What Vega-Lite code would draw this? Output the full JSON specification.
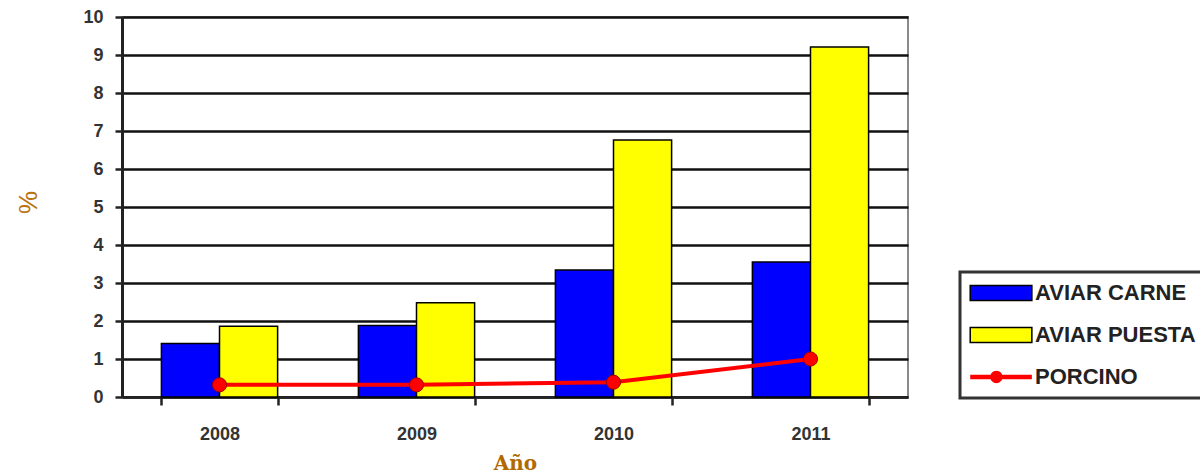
{
  "$schema": "https://vega.github.io/schema/vega-lite/v6.json",
  "autosize": {"type": "none"},
  "width": 786,
  "height": 380,
  "padding": {"left": 122, "top": 17, "right": 292, "bottom": 78},
  "background": "white",
  "config": {"view": {"stroke": "#8a8a8a", "strokeWidth": 2}, "font": "Liberation Sans"},
  "data": {
    "values": [
      {"year": "2008", "serie": "AVIAR CARNE", "value": 1.41},
      {"year": "2008", "serie": "AVIAR PUESTA", "value": 1.86},
      {"year": "2008", "serie": "PORCINO", "value": 0.32},
      {"year": "2009", "serie": "AVIAR CARNE", "value": 1.88},
      {"year": "2009", "serie": "AVIAR PUESTA", "value": 2.48},
      {"year": "2009", "serie": "PORCINO", "value": 0.32},
      {"year": "2010", "serie": "AVIAR CARNE", "value": 3.34},
      {"year": "2010", "serie": "AVIAR PUESTA", "value": 6.76},
      {"year": "2010", "serie": "PORCINO", "value": 0.39},
      {"year": "2011", "serie": "AVIAR CARNE", "value": 3.55},
      {"year": "2011", "serie": "AVIAR PUESTA", "value": 9.21},
      {"year": "2011", "serie": "PORCINO", "value": 1.0}
    ]
  },
  "encoding": {
    "x": {
      "field": "year",
      "type": "nominal",
      "scale": {"paddingInner": 0.41, "paddingOuter": 0.2},
      "axis": {
        "title": "Año",
        "titleFont": "DejaVu Serif",
        "titleFontWeight": "bold",
        "titleFontSize": 20,
        "titleColor": "#B06A00",
        "titleY": 66,
        "titleBaseline": "middle",
        "labelAngle": 0,
        "labelFontWeight": "bold",
        "labelFontSize": 18,
        "labelColor": "#333",
        "labelPadding": 20,
        "tickBand": "extent",
        "tickSize": 8,
        "tickWidth": 2.5,
        "tickColor": "#222",
        "domainColor": "#222",
        "domainWidth": 2.5
      }
    },
    "y": {
      "field": "value",
      "type": "quantitative",
      "scale": {"domain": [0, 10]},
      "axis": {
        "values": [0, 1, 2, 3, 4, 5, 6, 7, 8, 9, 10],
        "labelOverlap": false,
        "grid": true,
        "gridColor": "#111",
        "gridWidth": 2.5,
        "domainColor": "#222",
        "domainWidth": 3,
        "tickColor": "#222",
        "tickWidth": 2.5,
        "tickSize": 7,
        "labelFontWeight": "bold",
        "labelFontSize": 18,
        "labelColor": "#333",
        "labelPadding": 12,
        "title": "%",
        "titleColor": "#B8730F",
        "titleFontSize": 26,
        "titleFontWeight": "normal",
        "titleX": -94,
        "titleY": 185,
        "titleAngle": 270,
        "titleAlign": "center",
        "titleBaseline": "middle"
      }
    }
  },
  "layer": [
    {
      "transform": [{"filter": "datum.serie !== 'PORCINO'"}],
      "mark": {"type": "bar", "stroke": "black", "strokeWidth": 1.5},
      "encoding": {
        "xOffset": {"field": "serie", "type": "nominal", "sort": ["AVIAR CARNE", "AVIAR PUESTA"], "scale": {"paddingInner": 0, "paddingOuter": 0}},
        "color": {
          "field": "serie",
          "type": "nominal",
          "scale": {"domain": ["AVIAR CARNE", "AVIAR PUESTA", "PORCINO"], "range": ["#0000FF", "#FFFF00", "#FF0000"]},
          "legend": {
            "orient": "none",
            "legendX": 838,
            "legendY": 255,
            "title": null,
            "strokeColor": "#333",
            "fillColor": "white",
            "padding": 10,
            "labelFont": "Liberation Sans",
            "labelFontWeight": "bold",
            "labelFontSize": 22,
            "labelColor": "#222",
            "labelOffset": 43,
            "labelLimit": 400,
            "symbolSize": 3800,
            "symbolStrokeColor": "black",
            "symbolStrokeWidth": 1.5,
            "rowPadding": 20,
            "encode": {
              "legend": {"update": {"strokeWidth": {"value": 3}}},
              "symbols": {
                "update": {
                  "shape": {"signal": "datum.value === 'PORCINO' ? 'M-0.35,-0.07H1.65V0.07H-0.35Z M0.3,0A0.2,0.2 0 1,1 0.7,0A0.2,0.2 0 1,1 0.3,0Z' : 'M-0.35,-0.24H1.65V0.24H-0.35Z'"},
                  "strokeWidth": {"signal": "datum.value === 'PORCINO' ? 0 : 1.5"}
                }
              }
            }
          }
        }
      }
    },
    {
      "transform": [{"filter": "datum.serie === 'PORCINO'"}],
      "mark": {"type": "line", "color": "#FF0000", "strokeWidth": 4, "point": {"filled": true, "size": 200, "color": "#FF0000", "stroke": "#a00000", "strokeWidth": 1}},
      "encoding": {}
    }
  ]
}
